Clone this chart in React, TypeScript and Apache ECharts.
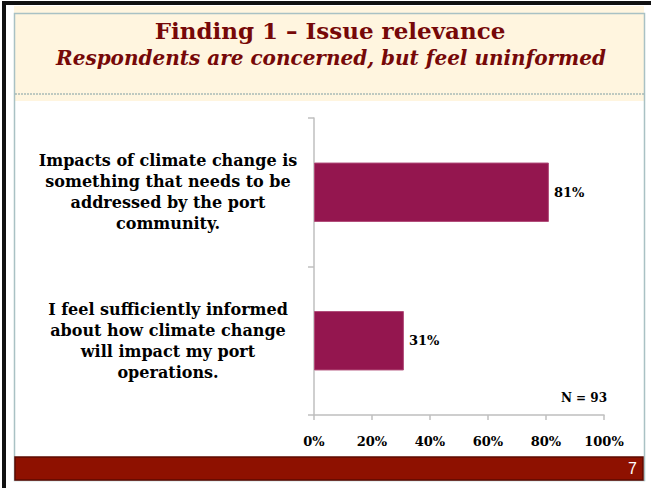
import React, { useEffect, useRef } from "react";
import * as echarts from "echarts";

const categories = [
  "Impacts of climate change is\nsomething that needs to be\naddressed by the port\ncommunity.",
  "I feel sufficiently informed\nabout how climate change\nwill impact my port\noperations.",
];
const values = [81, 31];
const xTicks = [0, 20, 40, 60, 80, 100];
const titleText = "Finding 1 – Issue relevance";
const subtitleText = "Respondents are concerned, but feel uninformed";
const noteText = "N = 93";
const pageNumber = "7";

const SERIF = "'DejaVu Serif', 'Liberation Serif', serif";

export default function App() {
  const ref = useRef<HTMLDivElement>(null);
  useEffect(() => {
    if (!ref.current) return;
    const chart = echarts.init(ref.current, null, { renderer: "svg" });
    chart.setOption({
      animation: false,
      backgroundColor: "#ffffff",
      graphic: [
        { type: "rect", shape: { x: 14, y: 6, width: 630, height: 95 }, style: { fill: "#FFF5DF" }, z: -10 },
        { type: "rect", shape: { x: 2, y: 1, width: 649, height: 4 }, style: { fill: "#111111" } },
        { type: "rect", shape: { x: 2, y: 1, width: 4, height: 487 }, style: { fill: "#111111" } },
        { type: "rect", shape: { x: 14.5, y: 13.5, width: 630, height: 467 }, style: { fill: "none", stroke: "#A9C1C4", lineWidth: 1.5 } },
        { type: "line", shape: { x1: 15, y1: 94, x2: 644, y2: 94 }, style: { stroke: "#7F9DA2", lineWidth: 1, lineDash: [2, 1] } },
        { type: "rect", shape: { x: 15, y: 457, width: 628, height: 23 }, style: { fill: "#8E1100", stroke: "#5C0A00", lineWidth: 1.5 } },
        {
          type: "text", x: 637, y: 468,
          style: { text: pageNumber, fill: "#ffffff", font: "16px 'Liberation Sans', Arial, sans-serif", textAlign: "right", textVerticalAlign: "middle" },
        },
        {
          type: "text", x: 330, y: 30,
          style: { text: titleText, fill: "#760808", font: `bold 23px ${SERIF}`, textAlign: "center", textVerticalAlign: "middle" },
        },
        {
          type: "text", x: 331, y: 58,
          style: { text: subtitleText, fill: "#760808", font: `italic bold 20px ${SERIF}`, textAlign: "center", textVerticalAlign: "middle" },
        },
        {
          type: "text", x: 607, y: 398,
          style: { text: noteText, fill: "#000000", font: `bold 12px ${SERIF}`, textAlign: "right", textVerticalAlign: "middle" },
        },
      ],
      grid: { left: 314, right: 47, top: 118, bottom: 73, containLabel: false },
      xAxis: {
        type: "value",
        min: 0,
        max: 100,
        interval: 20,
        splitLine: { show: false },
        axisLine: { show: true, lineStyle: { color: "#BFBFBF", width: 1.5 } },
        axisTick: { show: true, length: 5, lineStyle: { color: "#BFBFBF", width: 1.5 } },
        axisLabel: {
          margin: 20,
          color: "#000000",
          fontFamily: SERIF,
          fontWeight: "bold",
          fontSize: 13,
          formatter: (v: number) => (xTicks.includes(v) ? `${v}%` : ""),
        },
      },
      yAxis: {
        type: "category",
        data: categories,
        inverse: true,
        axisLine: { show: true, lineStyle: { color: "#BFBFBF", width: 1.5 } },
        axisTick: { show: true, length: 6, lineStyle: { color: "#BFBFBF", width: 1.5 } },
        axisLabel: {
          margin: 146,
          align: "center",
          color: "#000000",
          fontFamily: SERIF,
          fontWeight: "bold",
          fontSize: 16,
          lineHeight: 21,
        },
      },
      series: [
        {
          type: "bar",
          data: values,
          barWidth: "40%",
          itemStyle: { color: "#94164F", borderColor: "#B04B78", borderWidth: 1 },
          label: {
            show: true,
            position: "right",
            distance: 5,
            formatter: (p: any) => `${p.value}%`,
            color: "#000000",
            fontFamily: SERIF,
            fontWeight: "bold",
            fontSize: 13,
          },
        },
      ],
    });
    return () => chart.dispose();
  }, []);
  return <div ref={ref} style={{ position: "absolute", left: 0, top: 0, width: 651, height: 488 }} />;
}
